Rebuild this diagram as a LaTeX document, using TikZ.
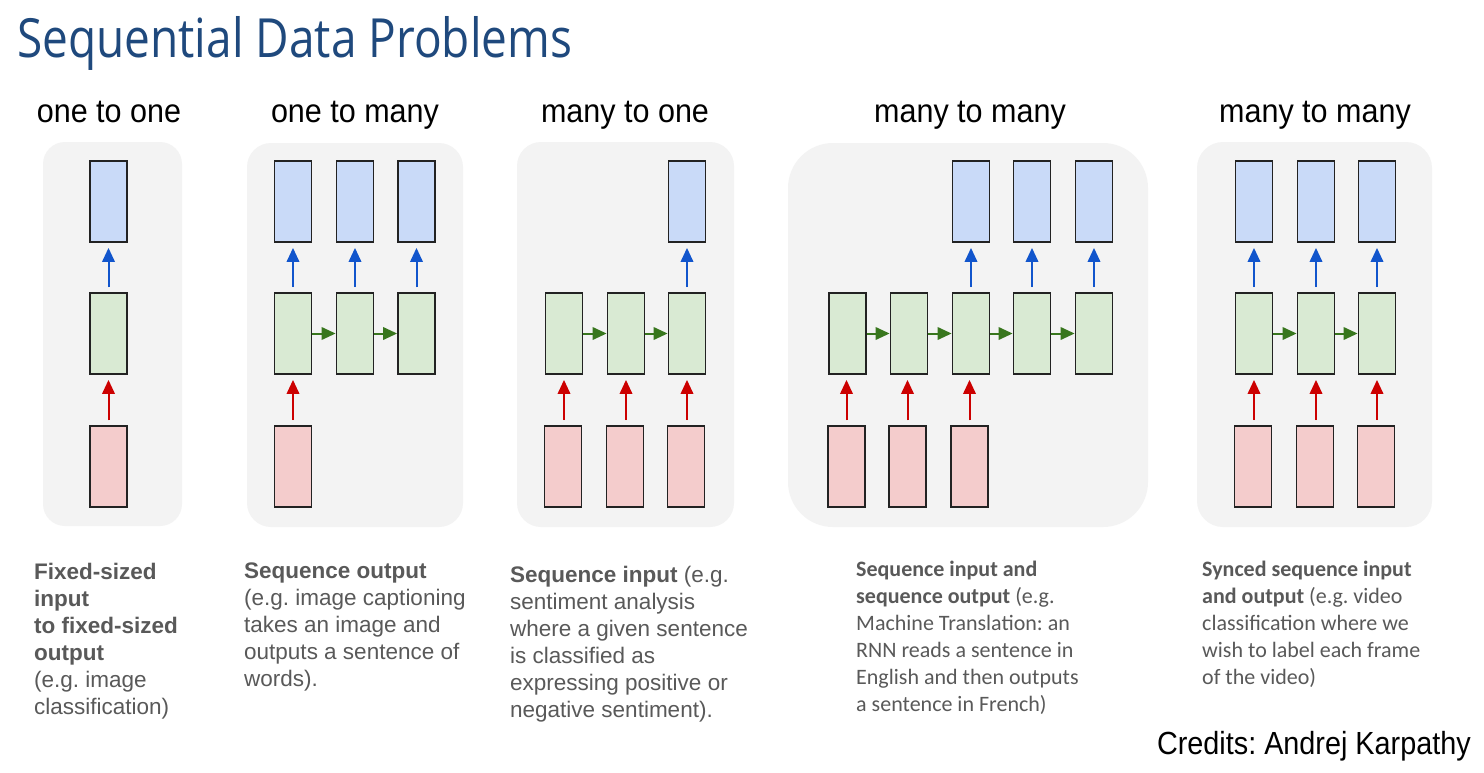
\documentclass[tikz,border=0pt]{standalone}
\usepackage{fontspec}
\setmainfont{Liberation Sans}
\newfontfamily\titlefont{Open Sans}
\newfontfamily\calfont{Carlito}
\usetikzlibrary{arrows.meta}
\frenchspacing
\definecolor{titleblue}{RGB}{31,73,125}
\definecolor{panelbg}{RGB}{243,243,243}
\definecolor{boxline}{RGB}{34,34,34}
\definecolor{bluefill}{RGB}{201,218,248}
\definecolor{greenfill}{RGB}{217,234,211}
\definecolor{redfill}{RGB}{244,204,204}
\definecolor{bluearr}{RGB}{17,85,204}
\definecolor{redarr}{RGB}{204,0,0}
\definecolor{greenarr}{RGB}{56,118,29}
\definecolor{captext}{RGB}{89,89,89}
\tikzset{
  cell/.style={draw=boxline, line width=1.8pt, minimum width=37pt, minimum height=81pt, inner sep=0pt},
  outbox/.style={cell, fill=bluefill},
  hidbox/.style={cell, fill=greenfill},
  inbox/.style={cell, fill=redfill},
  tipshape/.tip={Triangle[length=14pt,width=12.5pt]},
  uparr/.style={line width=2pt, -tipshape, shorten <=5pt, shorten >=5pt},
  bluearrow/.style={uparr, draw=bluearr, fill=bluearr},
  redarrow/.style={uparr, draw=redarr, fill=redarr},
  greenarrow/.style={line width=2pt, draw=greenarr, fill=greenarr, -tipshape},
  panel/.style={fill=panelbg},
  header/.style={anchor=base, inner sep=0pt, text=black, font=\fontsize{33}{33}\selectfont},
  caption/.style={anchor=north west, inner sep=0pt, align=left, text=captext, font=\fontsize{22.5}{27}\selectfont},
  calcaption/.style={anchor=north west, inner sep=0pt, align=left, text=captext, font=\calfont\fontsize{22}{27}\selectfont},
}
\begin{document}
\begin{tikzpicture}[x=1pt,y=-1pt]
\useasboundingbox (0,0) rectangle (1484,772);
\fill[white] (0,0) rectangle (1484,772);

% title
\node[anchor=base west, inner sep=0pt, text=titleblue, font=\titlefont\fontsize{54}{54}\selectfont] (title) at (17,57) {\resizebox{555pt}{\height}{Sequential Data Problems}};

% panel backgrounds
\fill[panel, rounded corners=22pt] (43,142) rectangle (182,526);
\fill[panel, rounded corners=24pt] (247,143) rectangle (463,527);
\fill[panel, rounded corners=24pt] (517,142) rectangle (734,527);
\fill[panel, rounded corners=45pt] (788,143) rectangle (1148,527);
\fill[panel, rounded corners=26pt] (1197,142) rectangle (1432,527);

% headers
\node[header] (h1) at (109,122) {\scalebox{0.925}[1]{one to one}};
\node[header] (h2) at (355,122) {\scalebox{0.925}[1]{one to many}};
\node[header] (h3) at (625,122) {\scalebox{0.925}[1]{many to one}};
\node[header] (h4) at (970,122) {\scalebox{0.925}[1]{many to many}};
\node[header] (h5) at (1315,122) {\scalebox{0.925}[1]{many to many}};

% panel 1: one to one
\node[outbox] (p1o1) at (108.5,201.5) {};
\node[hidbox] (p1h1) at (108.5,333.5) {};
\node[inbox]  (p1i1) at (108.5,466.5) {};
\draw[bluearrow] (p1h1) -- (p1o1);
\draw[redarrow] (p1i1) -- (p1h1);

% panel 2: one to many
\foreach \i/\x in {1/293,2/355,3/416.5}{
  \node[outbox] (p2o\i) at (\x,201.5) {};
  \node[hidbox] (p2h\i) at (\x,333.5) {};
  \draw[bluearrow] (p2h\i) -- (p2o\i);
}
\node[inbox] (p2i1) at (293,466.5) {};
\draw[redarrow] (p2i1) -- (p2h1);
\draw[greenarrow] (p2h1) -- (p2h2);
\draw[greenarrow] (p2h2) -- (p2h3);

% panel 3: many to one
\foreach \i/\x in {1/564,2/626,3/687}{
  \node[hidbox] (p3h\i) at (\x,333.5) {};
  \node[inbox] (p3i\i) at (\x-1,466.5) {};
  \draw[redarrow] (p3i\i.north -| p3h\i) -- (p3h\i);
}
\node[outbox] (p3o3) at (687,201.5) {};
\draw[bluearrow] (p3h3) -- (p3o3);
\draw[greenarrow] (p3h1) -- (p3h2);
\draw[greenarrow] (p3h2) -- (p3h3);

% panel 4: many to many (encoder-decoder)
\foreach \i/\x in {1/847.5,2/909,3/971,4/1032,5/1094}{
  \node[hidbox] (p4h\i) at (\x,333.5) {};
}
\foreach \i/\x in {3/971,4/1032,5/1094}{
  \node[outbox] (p4o\i) at (\x,201.5) {};
  \draw[bluearrow] (p4h\i) -- (p4o\i);
}
\foreach \i/\x in {1/846.5,2/907.5,3/969.5}{
  \node[inbox] (p4i\i) at (\x,466.5) {};
  \draw[redarrow] (p4i\i) -- (p4i\i |- p4h\i.south);
}
\draw[greenarrow] (p4h1) -- (p4h2);
\draw[greenarrow] (p4h2) -- (p4h3);
\draw[greenarrow] (p4h3) -- (p4h4);
\draw[greenarrow] (p4h4) -- (p4h5);

% panel 5: synced many to many
\foreach \i/\x in {1/1254,2/1316,3/1377}{
  \node[outbox] (p5o\i) at (\x,201.5) {};
  \node[hidbox] (p5h\i) at (\x,333.5) {};
  \node[inbox] (p5i\i) at (\x-1,466.5) {};
  \draw[bluearrow] (p5h\i) -- (p5o\i);
  \draw[redarrow] (p5i\i.north -| p5h\i) -- (p5h\i);
}
\draw[greenarrow] (p5h1) -- (p5h2);
\draw[greenarrow] (p5h2) -- (p5h3);

% captions
\node[caption] (c1) at (34,563) {\textbf{Fixed-sized}\\\textbf{input}\\\textbf{to fixed-sized}\\\textbf{output}\\(e.g. image\\classification)};
\node[caption] (c2) at (244,563) {\textbf{Sequence output}\\(e.g. image captioning\\takes an image and\\outputs a sentence of\\words).};
\node[caption] (c3) at (510,566) {\textbf{Sequence input} (e.g.\\sentiment analysis\\where a given sentence\\is classified as\\expressing positive or\\negative sentiment).};
\node[calcaption] (c4) at (856,561) {\textbf{Sequence input and}\\\textbf{sequence output} (e.g.\\Machine Translation: an\\RNN reads a sentence in\\English and then outputs\\a sentence in French)};
\node[calcaption] (c5) at (1202,561) {\textbf{Synced sequence input}\\\textbf{and output} (e.g. video\\classification where we\\wish to label each frame\\of the video)};

% credits
\node[anchor=base east, inner sep=0pt, text=black, font=\fontsize{32}{32}\selectfont] (credits) at (1471,754) {\scalebox{0.9}[1]{Credits: Andrej Karpathy}};
\end{tikzpicture}
\end{document}
